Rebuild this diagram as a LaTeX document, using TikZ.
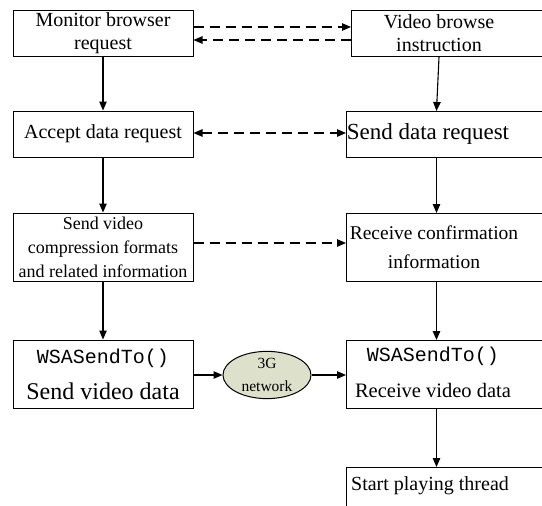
\documentclass[tikz,border=0pt]{standalone}
\usepackage{fontspec}
\setmainfont{Liberation Serif}
\newfontfamily\monofont{Liberation Mono}
\usetikzlibrary{arrows.meta,shapes.geometric}
\definecolor{netfill}{RGB}{221,225,204}
\tikzset{
  lbox/.style={draw, line width=1pt, minimum width=180pt, align=center, inner sep=0pt},
  rbox/.style={draw, line width=1pt, minimum width=214pt, anchor=north west, inner sep=0pt},
  rtext/.style={align=center, inner sep=0pt},
  flow/.style={line width=1.1pt, -{Triangle[length=9pt,width=7.5pt]}},
  dflow/.style={flow, dash pattern=on 10pt off 6pt},
  ddflow/.style={dflow, {Triangle[length=9pt,width=7.5pt]}-{Triangle[length=9pt,width=7.5pt]}},
  f20/.style={font=\fontsize{20}{23}\selectfont},
}
\begin{document}
\begin{tikzpicture}[x=1pt,y=1pt]
\useasboundingbox (0,0) rectangle (542,-506);
% left column
\node[lbox, f20, minimum height=46pt] (lb1) at (103,-33) {Monitor browser\\request};
\node[lbox, f20, minimum height=46pt] (lb2) at (103,-134) {Accept data request};
\node[lbox, font=\fontsize{18}{24}\selectfont, minimum height=68pt] (lb3) at (103,-247) {Send video\\compression formats\\and related information};
\node[lbox, font=\fontsize{24}{36}\selectfont, minimum height=68pt] (lb4) at (103,-374) {{\fontsize{20}{24}\selectfont\monofont WSASendTo()}\\Send video data};
% network
\node[ellipse, draw, line width=1pt, fill=netfill, minimum width=88pt, minimum height=47pt, inner sep=0pt, align=center, font=\fontsize{15.5}{23}\selectfont] (net) at (267,-375) {3G\\network};
% right column boxes
\node[rbox, minimum height=46pt] (rb1) at (351,-10) {};
\node[rbox, minimum height=46pt] (rb2) at (346,-111) {};
\node[rbox, minimum height=68pt] (rb3) at (346,-213) {};
\node[rbox, minimum height=68pt] (rb4) at (346,-340) {};
\node[rbox, minimum height=64pt] (rb5) at (346,-467) {};
% right column texts
\node[rtext, f20] (rt1) at (439,-33) {Video browse\\instruction};
\node[rtext, font=\fontsize{23}{26}\selectfont] (rt2) at (428,-134) {Send data request};
\node[rtext, font=\fontsize{19.5}{29}\selectfont] (rt3) at (434,-247) {Receive confirmation\\information};
\node[rtext, font=\fontsize{20.5}{36}\selectfont] (rt4) at (433,-372) {{\fontsize{20}{24}\selectfont\monofont WSASendTo()}\\Receive video data};
\node[rtext, f20] (rt5) at (430,-486) {Start playing thread};
\coordinate (col) at (436.5,0);
% left vertical connectors
\draw[flow] (lb1) -- (lb2);
\draw[flow] (lb2) -- (lb3);
\draw[flow] (lb3) -- (lb4);
% right vertical connectors
\draw[flow] (rt1 |- rb1.south) -- (col |- rb2.north);
\draw[flow] (col |- rb2.south) -- (col |- rb3.north);
\draw[flow] (col |- rb3.south) -- (col |- rb4.north);
\draw[flow] (col |- rb4.south) -- (col |- rb5.north);
% horizontal connectors
\draw[dflow] ([yshift=6pt]lb1.east) -- ([yshift=6pt]lb1.east -| rb1.west);
\draw[dflow] ([yshift=-7pt]lb1.east -| rb1.west) -- ([yshift=-7pt]lb1.east);
\draw[ddflow] ([yshift=1pt]lb2.east) -- ([yshift=1pt]lb2.east -| rb2.west);
\draw[dflow] ([yshift=4pt]lb3.east) -- ([yshift=4pt]lb3.east -| rb3.west);
\draw[flow] (lb4.east |- net.west) -- (net.west);
\draw[flow] (net.east) -- (net.east -| rb4.west);
\end{tikzpicture}
\end{document}
